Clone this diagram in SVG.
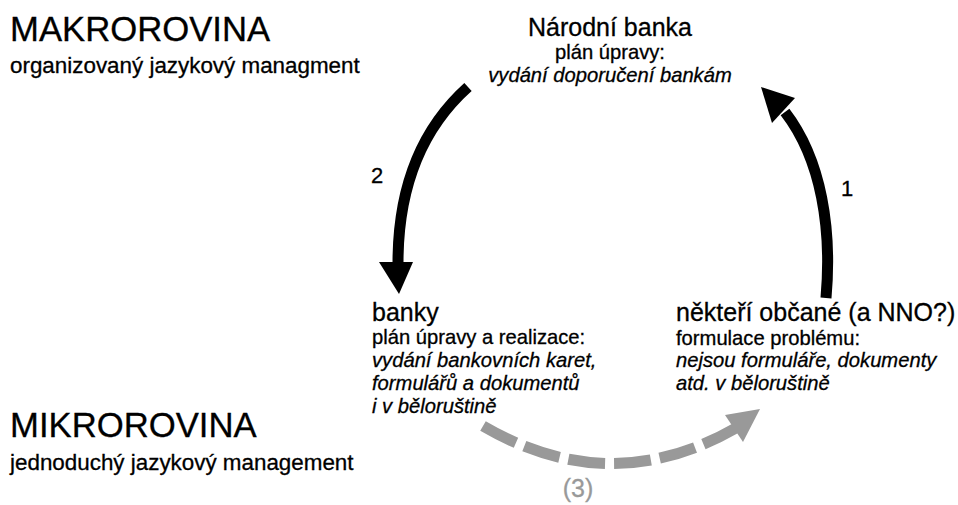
<svg xmlns="http://www.w3.org/2000/svg" width="958" height="505" viewBox="0 0 958 505">
<style>
text{font-family:"Liberation Sans",Arial,sans-serif;fill:#000;stroke:#000;stroke-width:0.3}
.lvl{font-size:34.7px}
.sub{font-size:22.4px}
.title{font-size:25px}
.body{font-size:20.2px}
.it{font-size:20.2px;font-style:italic}
.num{font-size:22px}
.gray{fill:#999;stroke:#999;font-size:25px}
.arc{fill:none;stroke:#000;stroke-width:11}
.dash{fill:none;stroke:#999;stroke-width:11;stroke-dasharray:37 9}
</style>
<rect width="958" height="505" fill="#fff"/>
<g id="levels">
<text class="lvl" x="10" y="41">MAKROROVINA</text>
<text class="sub" x="10" y="73">organizovaný jazykový managment</text>
<text class="lvl" x="10" y="437">MIKROROVINA</text>
<text class="sub" x="10" y="470">jednoduchý jazykový management</text>
</g>
<g id="narodni-banka" text-anchor="middle">
<text class="title" x="610" y="36">Národní banka</text>
<text class="body" x="610" y="59">plán úpravy:</text>
<text class="it" x="610" y="82">vydání doporučení bankám</text>
</g>
<g id="banky">
<text class="title" x="372" y="321">banky</text>
<text class="body" x="372" y="344">plán úpravy a realizace:</text>
<text class="it" x="372" y="367">vydání bankovních karet,</text>
<text class="it" x="372" y="390">formulářů a dokumentů</text>
<text class="it" x="372" y="413">i v běloruštině</text>
</g>
<g id="obcane">
<text class="title" x="676" y="321">někteří občané (a NNO?)</text>
<text class="body" x="676" y="345">formulace problému:</text>
<text class="it" x="676" y="367">nejsou formuláře, dokumenty</text>
<text class="it" x="676" y="390">atd. v běloruštině</text>
</g>
<g id="connectors">
<path class="arc" d="M 468,87 C 420,130 398,190 398,263"/>
<polygon points="379,262 413,262 399,294" fill="#000"/>
<text class="num" x="371" y="183">2</text>
<path class="arc" d="M 826,298 C 832,230 822,160 785,112"/>
<polygon points="761,87 772,123 795,98" fill="#000"/>
<text class="num" x="841" y="196">1</text>
<path class="dash" d="M 483,426 Q 610,500 736,428"/>
<polygon points="760,409 725,415 743,442" fill="#999"/>
<text class="gray" x="578" y="497" text-anchor="middle">(3)</text>
</g>
</svg>
